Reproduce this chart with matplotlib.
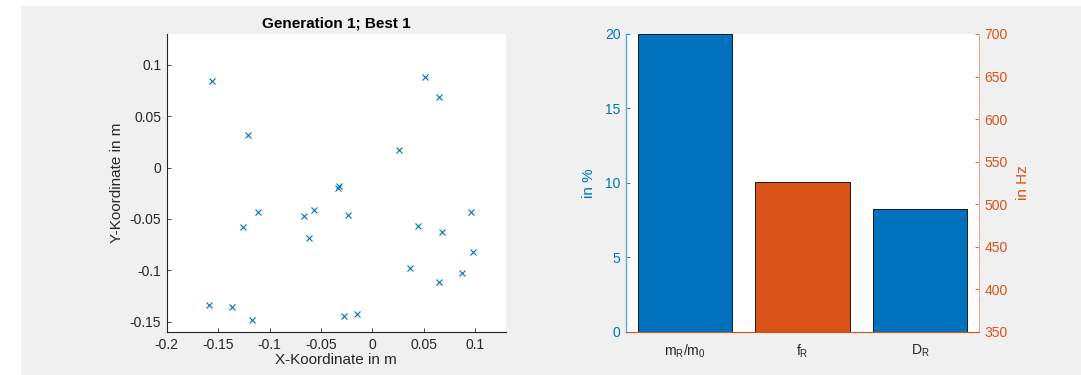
import matplotlib.pyplot as plt
from matplotlib.patches import Rectangle

plt.rcParams["font.family"] = ["Liberation Sans", "DejaVu Sans"]
plt.rcParams["mathtext.fontset"] = "custom"
plt.rcParams["mathtext.rm"] = "Liberation Sans"

# positions of the best individual (generation 1)
x_pos = [-0.1563, 0.0511, 0.0650, -0.1207, 0.0256, -0.0324, -0.0330, -0.1110,
         -0.0667, -0.0566, -0.0239, -0.1259, -0.0618, 0.0440, 0.0676, 0.0958,
         0.0981, 0.0369, 0.0874, 0.0644, -0.1589, -0.1366, -0.1168, -0.0278,
         -0.0149]
y_pos = [0.0841, 0.0883, 0.0686, 0.0314, 0.0171, -0.0175, -0.0194, -0.0437,
         -0.0469, -0.0411, -0.0459, -0.0576, -0.0682, -0.0569, -0.0627, -0.0437,
         -0.0825, -0.0980, -0.1028, -0.1113, -0.1336, -0.1358, -0.1484, -0.1442,
         -0.1426]

# bar chart parameters
categories = [r"m$_\mathregular{R}$/m$_\mathregular{0}$",
              r"f$_\mathregular{R}$",
              r"D$_\mathregular{R}$"]
percent_vals = {0: 20.0, 2: 8.25}   # left axis, in %
hz_vals = {1: 526.0}                # right axis, in Hz

blue = "#0072BD"
orange = "#D95319"
dark = "#262626"

fig = plt.figure(figsize=(10.81, 3.75), dpi=100, facecolor="white")
fig.patches.append(Rectangle((21 / 1081, 0), 1, 369 / 375, transform=fig.transFigure,
                             facecolor="#f0f0f0", edgecolor="none", zorder=-10))

# ---- scatter plot ----
ax1 = fig.add_axes([0.1542, 0.1147, 0.3139, 0.7947])
ax1.plot(x_pos, y_pos, linestyle="none", marker="x", color=blue,
         markersize=5, markeredgewidth=0.8)
ax1.set_xlim(-0.2, 0.13)
ax1.set_ylim(-0.16, 0.13)
ax1.set_xticks([-0.2, -0.15, -0.1, -0.05, 0, 0.05, 0.1])
ax1.set_xticklabels(["-0.2", "-0.15", "-0.1", "-0.05", "0", "0.05", "0.1"])
ax1.set_yticks([-0.15, -0.1, -0.05, 0, 0.05, 0.1])
ax1.set_yticklabels(["-0.15", "-0.1", "-0.05", "0", "0.05", "0.1"])
for s in ["top", "right"]:
    ax1.spines[s].set_visible(False)
for s in ["left", "bottom"]:
    ax1.spines[s].set_color(dark)
    ax1.spines[s].set_linewidth(0.8)
ax1.tick_params(direction="in", length=3, width=0.6, colors=dark,
                labelsize=10, pad=4)
ax1.set_xlabel("X-Koordinate in m", fontsize=11, color=dark, labelpad=1)
ax1.set_ylabel("Y-Koordinate in m", fontsize=11, color=dark, labelpad=4)
ax1.set_title("Generation 1; Best 1", fontsize=11, fontweight="bold",
              color="black", pad=5)

# ---- bar chart with two y axes ----
ax2 = fig.add_axes([0.5791, 0.1147, 0.3266, 0.7947])
ax3 = ax2.twinx()
for i, v in percent_vals.items():
    ax2.bar(i + 1, v, width=0.8, color=blue, edgecolor="black", linewidth=0.6)
for i, v in hz_vals.items():
    ax3.bar(i + 1, v, width=0.8, color=orange, edgecolor="black", linewidth=0.6)

ax2.set_xlim(0.5, 3.5)
ax2.set_ylim(0, 20)
ax2.set_yticks([0, 5, 10, 15, 20])
ax3.set_ylim(350, 700)
ax3.set_yticks(range(350, 701, 50))
ax2.set_xticks([1, 2, 3])
ax2.set_xticklabels(categories)

for a in (ax2, ax3):
    a.spines["top"].set_visible(False)
ax2.spines["right"].set_visible(False)
ax3.spines["left"].set_visible(False)
ax2.spines["left"].set_color("#5aa6dc")
ax2.spines["left"].set_linewidth(1.0)
ax2.spines["bottom"].set_visible(False)
ax3.spines["bottom"].set_color(orange)
ax3.spines["bottom"].set_linewidth(0.8)
ax3.spines["right"].set_color("#eaa88a")
ax3.spines["right"].set_linewidth(0.8)

ax2.tick_params(axis="y", direction="in", length=3, width=0.6, colors=blue,
                labelsize=10, pad=4)
ax2.tick_params(axis="x", length=0, colors=dark, labelsize=10, pad=8)
ax3.tick_params(axis="y", direction="in", length=3, width=0.6, colors=orange,
                labelsize=10, pad=4)
ax2.set_ylabel("in %", fontsize=11, color=blue, labelpad=6)
ax3.set_ylabel("in Hz", fontsize=11, color=orange, labelpad=6)

fig.savefig("out.png", dpi=100, facecolor=fig.get_facecolor())
